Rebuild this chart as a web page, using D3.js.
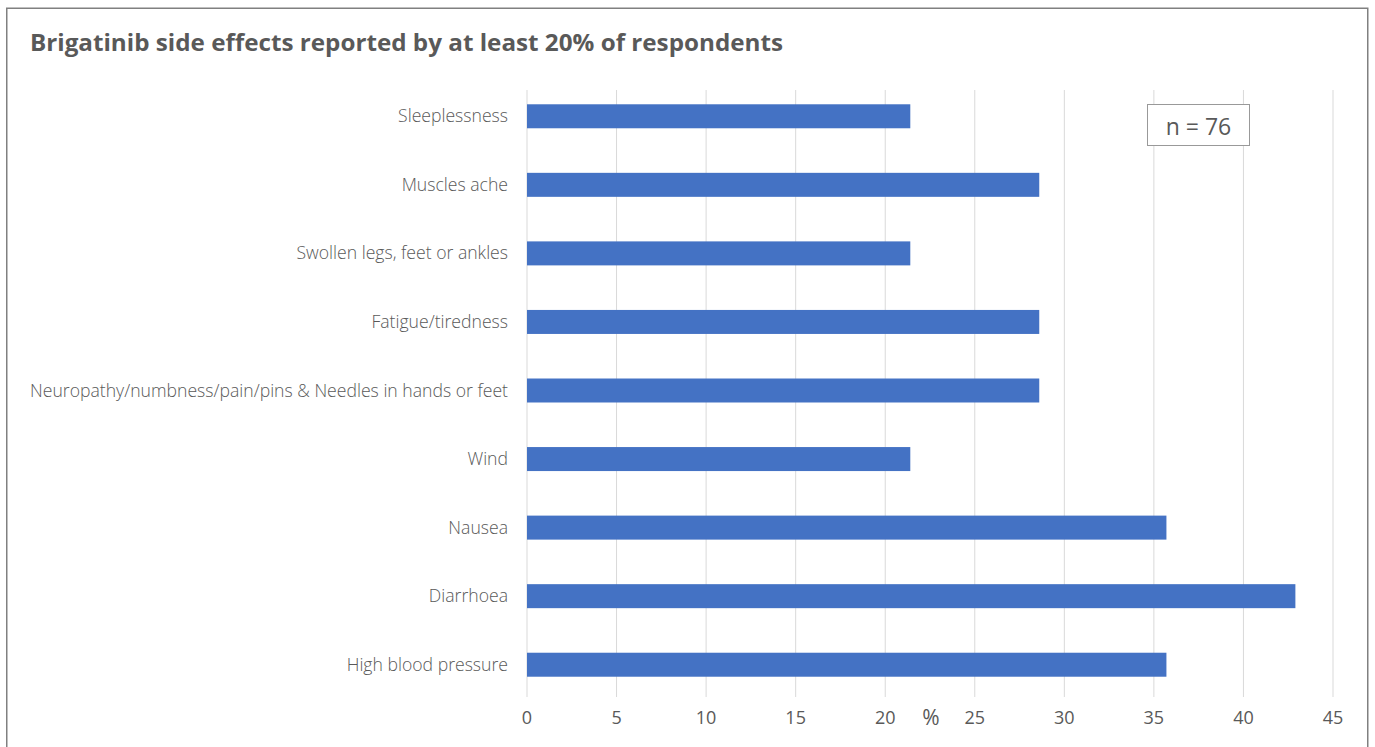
<!DOCTYPE html>
<html>
<head>
<meta charset="utf-8">
<script src="https://cdn.jsdelivr.net/npm/d3@7"></script>
<style>
  html, body { margin: 0; padding: 0; background: #fff; }
  svg { display: block; }
</style>
</head>
<body>
<svg id="chart" width="1375" height="747"></svg>
<script>
const categories = [
  "Sleeplessness",
  "Muscles ache",
  "Swollen legs, feet or ankles",
  "Fatigue/tiredness",
  "Neuropathy/numbness/pain/pins & Needles in hands or feet",
  "Wind",
  "Nausea",
  "Diarrhoea",
  "High blood pressure"
];
const values = [21.4, 28.6, 21.4, 28.6, 28.6, 21.4, 35.7, 42.9, 35.7];
const xTicks = [0, 5, 10, 15, 20, 25, 30, 35, 40, 45];
const titleText = "Brigatinib side effects reported by at least 20% of respondents";
const axisUnit = "%";
const noteText = "n = 76";

const svg = d3.select("#chart");
const textColor = "#595959";

// frame
svg.append("rect")
  .attr("x", 6.75).attr("y", 8.25)
  .attr("width", 1361).attr("height", 760)
  .attr("fill", "#fff")
  .attr("stroke", "#808080").attr("stroke-width", 1.5);

// title
const title = svg.append("text")
  .attr("x", 30).attr("y", 51)
  .attr("font-family", "'Open Sans', 'DejaVu Sans', sans-serif")
  .attr("font-weight", 700)
  .attr("font-size", 23)
  .attr("fill", textColor)
  .text(titleText);
title.attr("textLength", 753).attr("lengthAdjust", "spacingAndGlyphs");

const x = d3.scaleLinear().domain([0, 45]).range([527, 1333]);
const y = d3.scaleBand().domain(categories).range([82, 699])
  .paddingInner(0.65).paddingOuter(0.325);

// gridlines
svg.append("g").selectAll("line").data(xTicks).join("line")
  .attr("x1", d => x(d)).attr("x2", d => x(d))
  .attr("y1", 90).attr("y2", 697)
  .attr("stroke", "#d9d9d9").attr("stroke-width", 1);

// bars
svg.append("g").selectAll("rect").data(categories).join("rect")
  .attr("x", x(0))
  .attr("y", d => y(d))
  .attr("width", (d, i) => x(values[i]) - x(0))
  .attr("height", y.bandwidth())
  .attr("fill", "#4472C4");

// category labels
const labels = svg.append("g").selectAll("text").data(categories).join("text")
  .attr("x", 508)
  .attr("y", d => y(d) + y.bandwidth() / 2 - 1)
  .attr("text-anchor", "end")
  .attr("dominant-baseline", "central")
  .attr("font-family", "'Open Sans', 'DejaVu Sans', sans-serif")
  .attr("font-weight", 300)
  .attr("font-size", 15)
  .attr("fill", textColor)
  .text(d => d);
let maxW = 0;
labels.each(function () { maxW = Math.max(maxW, this.getComputedTextLength()); });
const target = 478;
if (maxW > 0) labels.attr("font-size", 15 * target / maxW);

// x tick labels
svg.append("g").selectAll("text").data(xTicks).join("text")
  .attr("x", d => x(d))
  .attr("y", 717)
  .attr("text-anchor", "middle")
  .attr("dominant-baseline", "central")
  .attr("font-family", "'Open Sans', 'DejaVu Sans', sans-serif")
  .attr("font-size", 18)
  .attr("fill", textColor)
  .text(d => d);

// axis unit
svg.append("text")
  .attr("x", 931).attr("y", 717)
  .attr("text-anchor", "middle")
  .attr("dominant-baseline", "central")
  .attr("font-family", "'Open Sans', 'DejaVu Sans', sans-serif")
  .attr("font-size", 21)
  .attr("fill", textColor)
  .text(axisUnit);

// n box
svg.append("rect")
  .attr("x", 1147.5).attr("y", 104.5)
  .attr("width", 102).attr("height", 41)
  .attr("fill", "#fff")
  .attr("stroke", "#999").attr("stroke-width", 1);
svg.append("text")
  .attr("x", 1198.5).attr("y", 125.5)
  .attr("text-anchor", "middle")
  .attr("dominant-baseline", "central")
  .attr("font-family", "'Open Sans', 'DejaVu Sans', sans-serif")
  .attr("font-size", 23)
  .attr("fill", textColor)
  .text(noteText);
</script>
</body>
</html>
